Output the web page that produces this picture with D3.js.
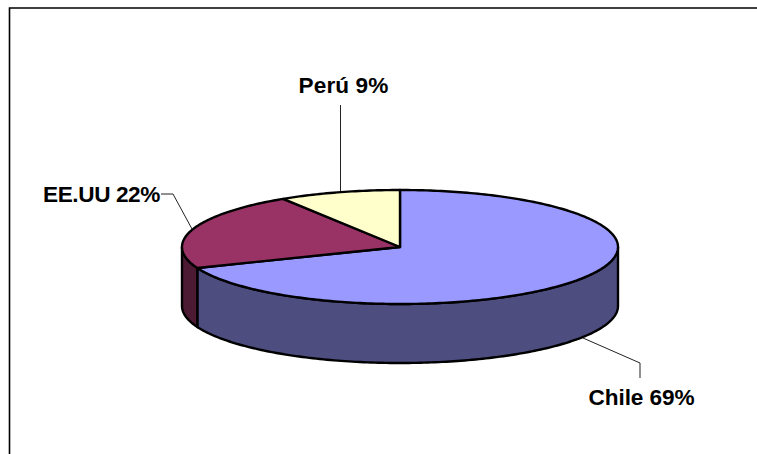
<!DOCTYPE html>
<html>
<head>
<meta charset="utf-8">
<script src="https://cdn.jsdelivr.net/npm/d3@7"></script>
<style>
html, body { margin: 0; padding: 0; background: #fff; }
svg { display: block; }
text { font-family: "Liberation Sans", Arial, sans-serif; font-weight: bold; fill: #000; }
</style>
</head>
<body>
<div id="chart"></div>
<script>
//Chart data
var categories = ["Chile", "EE.UU", "Perú"];
var shares = [69, 22, 9];
var topColors = ["#9999ff", "#993366", "#ffffcc"];
var sideColors = ["#4d4d80", "#4d1a33", "#808066"];

var width = 757, height = 454;

var svg = d3.select("#chart").append("svg")
    .attr("width", width)
    .attr("height", height);

//Chart frame, open at the right and bottom
svg.append("path")
    .attr("d", "M9.5,454V8H757")
    .attr("fill", "none")
    .attr("stroke", "#000")
    .attr("stroke-width", 1.6);

//The disc is a unit circle squashed through two scales
var x = d3.scaleLinear().domain([-1, 1]).range([182, 618]);
var y = d3.scaleLinear().domain([-1, 1]).range([190, 304]);
var depth = 59;

var pie = d3.pie().sort(null)(shares);

function rim(a, drop){
    return [x(Math.sin(a)), y(-Math.cos(a)) + drop];
}

//Points between two angles, one per degree
function arcPoints(a0, a1, drop){
    var n = Math.max(1, Math.ceil(Math.abs(a1 - a0) / (Math.PI / 180)));
    return d3.range(n + 1).map(function(i){
        return rim(a0 + (a1 - a0) * i / n, drop);
    });
}

var line = d3.line();

//Side wall, only the front half of the disc can be seen
pie.forEach(function(d, i){
    var a0 = Math.max(d.startAngle, Math.PI / 2);
    var a1 = Math.min(d.endAngle, Math.PI * 1.5);
    if (a1 <= a0) return;
    var pts = arcPoints(a0, a1, 0).concat(arcPoints(a1, a0, depth));
    svg.append("path")
        .attr("d", line(pts) + "Z")
        .attr("fill", sideColors[i])
        .attr("stroke", "#000")
        .attr("stroke-width", 2.4)
        .attr("stroke-linejoin", "round");
});

//Top of the disc
pie.forEach(function(d, i){
    var pts = [[x(0), y(0)]].concat(arcPoints(d.startAngle, d.endAngle, 0));
    svg.append("path")
        .attr("d", line(pts) + "Z")
        .attr("fill", topColors[i])
        .attr("stroke", "#000")
        .attr("stroke-width", 2.4)
        .attr("stroke-linejoin", "round");
});

//Leader lines
var leaders = [
    [[583, 338], [640, 363], [640, 378]],
    [[161, 194], [173, 194], [192, 229]],
    [[340.5, 105], [340.5, 191]]
];
svg.selectAll("path.leader")
    .data(leaders)
    .enter().append("path")
    .attr("class", "leader")
    .attr("d", line)
    .attr("fill", "none")
    .attr("stroke", "#222")
    .attr("stroke-width", 1);

//Labels
var labelPos = [[641.5, 405], [101.5, 202], [343.5, 93]];
var labelSpacing = [-0.1, -0.4, 0.1];
svg.selectAll("text.label")
    .data(categories)
    .enter().append("text")
    .attr("class", "label")
    .attr("x", function(d, i){ return labelPos[i][0]; })
    .attr("y", function(d, i){ return labelPos[i][1]; })
    .attr("text-anchor", "middle")
    .attr("font-size", 22.6)
    .attr("letter-spacing", function(d, i){ return labelSpacing[i]; })
    .text(function(d, i){ return d + " " + shares[i] + "%"; });
</script>
</body>
</html>
